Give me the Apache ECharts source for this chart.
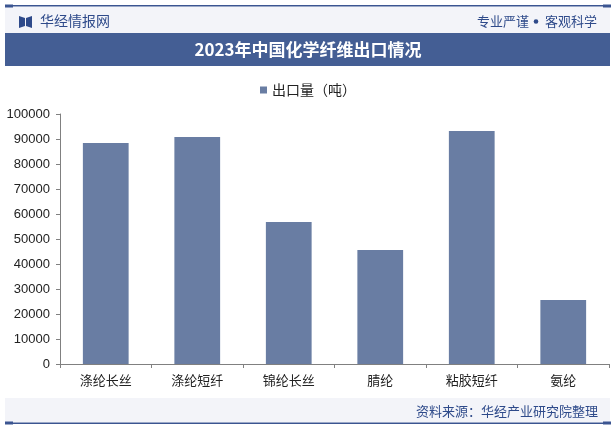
<!DOCTYPE html>
<html><head><meta charset="utf-8">
<script src="https://cdn.jsdelivr.net/npm/echarts@6/dist/echarts.min.js"></script>
<style>html,body{margin:0;padding:0;background:#fff}#c{width:616px;height:430px}</style>
</head><body><div id="c"></div>
<script>
const categories = ['涤纶长丝','涤纶短纤','锦纶长丝','腈纶','粘胶短纤','氨纶'];
const exportVolume = [88400, 90800, 56800, 45600, 93200, 25600];
const yTicks = {min: 0, max: 100000, interval: 10000};
const seriesName = '出口量（吨）';
const titleText = '2023年中国化学纤维出口情况';

const chart = echarts.init(document.getElementById('c'));
const cjk = '"Noto Sans CJK SC", "Liberation Sans", sans-serif';
chart.setOption({
  animation: false,
  backgroundColor: '#fff',
  textStyle: {fontFamily: cjk},
  graphic: [
    {type:'rect', shape:{x:5,y:7,width:605,height:26}, style:{fill:'#f3f4f9'}, z:-1},
    {type:'rect', shape:{x:5,y:5,width:606,height:1.5}, style:{fill:'#3b5591'}},
    {type:'rect', shape:{x:5,y:4.5,width:8,height:3}, style:{fill:'#3b5591'}},
    {type:'rect', shape:{x:603,y:4.5,width:8,height:3}, style:{fill:'#3b5591'}},
    {type:'polygon', shape:{points:[[19,16],[25,18],[25,26],[19,28]]}, style:{fill:'#2e4a8a'}},
    {type:'polygon', shape:{points:[[26,18],[32,16],[32,28],[26,26]]}, style:{fill:'#2e4a8a'}},
    {type:'text', style:{x:40,y:21,text:'华经情报网',fill:'#2e4a8a',font:'14px '+cjk,textVerticalAlign:'middle'}},
    {type:'text', style:{x:529,y:21,text:'专业严谨',fill:'#2e4a8a',font:'13px '+cjk,textAlign:'right',textVerticalAlign:'middle'}},
    {type:'circle', shape:{cx:536,cy:21.5,r:2.3}, style:{fill:'#2e4a8a'}},
    {type:'text', style:{x:597,y:21,text:'客观科学',fill:'#2e4a8a',font:'13px '+cjk,textAlign:'right',textVerticalAlign:'middle'}},
    {type:'rect', shape:{x:5,y:33,width:605,height:33}, style:{fill:'#445e94'}},
    {type:'text', style:{x:308,y:50,text:titleText,fill:'#fff',font:'bold 17px '+cjk,textAlign:'center',textVerticalAlign:'middle'}},
    {type:'rect', shape:{x:5,y:398,width:605,height:24}, style:{fill:'#f3f4f9'}, z:-1},
    {type:'text', style:{x:598,y:411,text:'资料来源：华经产业研究院整理',fill:'#2e4a8a',font:'13px '+cjk,textAlign:'right',textVerticalAlign:'middle'}},
    {type:'rect', shape:{x:5,y:422.5,width:606,height:1.5}, style:{fill:'#3b5591'}},
    {type:'rect', shape:{x:5,y:421.5,width:8,height:3}, style:{fill:'#3b5591'}},
    {type:'rect', shape:{x:603,y:421.5,width:8,height:3}, style:{fill:'#3b5591'}}
  ],
  legend: {
    top: 78, left: 'center', itemWidth: 7, itemHeight: 7, itemGap: 4,
    icon: 'rect',
    textStyle: {fontSize: 14, color: '#222', fontFamily: cjk},
    data: [seriesName]
  },
  grid: {left: 60, right: 7, top: 114, bottom: 66, containLabel: false},
  xAxis: {
    type: 'category', data: categories,
    axisLine: {lineStyle: {color: '#808080'}},
    axisTick: {show: true, length: 4, lineStyle: {color: '#808080'}},
    axisLabel: {color: '#222', fontSize: 13, margin: 10, fontFamily: cjk}
  },
  yAxis: {
    type: 'value', min: yTicks.min, max: yTicks.max, interval: yTicks.interval,
    axisLine: {show: true, lineStyle: {color: '#808080'}},
    axisTick: {show: true, length: 4, lineStyle: {color: '#808080'}},
    splitLine: {show: false},
    axisLabel: {color: '#222', fontSize: 13, margin: 10, fontFamily: '"Liberation Sans", Arial, sans-serif',
      formatter: function (v) { return String(v); }}
  },
  series: [{
    name: seriesName, type: 'bar', data: exportVolume,
    barWidth: '50%', itemStyle: {color: '#697da3'}
  }]
});
</script></body></html>
